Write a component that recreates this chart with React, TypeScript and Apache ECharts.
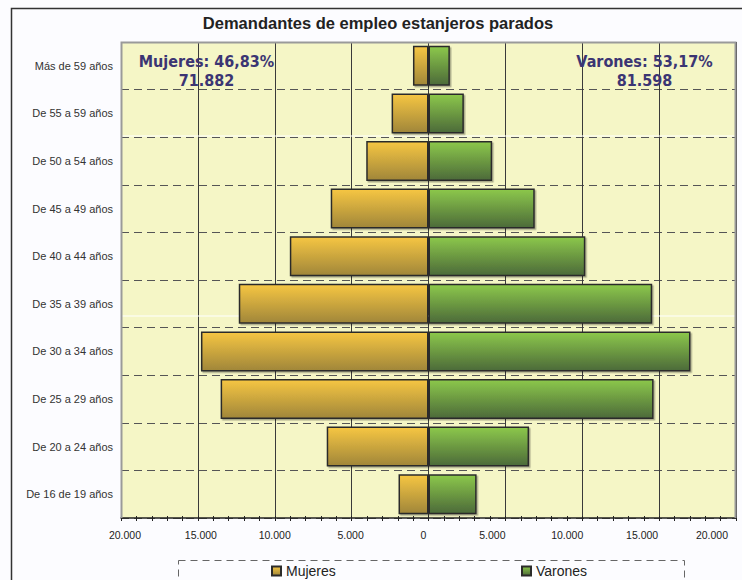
import React, { useEffect, useRef } from 'react';
import * as echarts from 'echarts';

const chartTitle = 'Demandantes de empleo estanjeros parados';
const categories = [
  'De 16 de 19 años',
  'De 20 a 24 años',
  'De 25 a 29 años',
  'De 30 a 34 años',
  'De 35 a 39 años',
  'De 40 a 44 años',
  'De 45 a 49 años',
  'De 50 a 54 años',
  'De 55 a 59 años',
  'Más de 59 años',
];
const seriesNames = ['Mujeres', 'Varones'];
const mujeres = [1950, 6620, 13520, 14800, 12340, 9020, 6360, 4050, 2400, 1010];
const varones = [3130, 6540, 14640, 17040, 14550, 10200, 6910, 4140, 2300, 1390];
const xTickValues = [-20000, -15000, -10000, -5000, 0, 5000, 10000, 15000, 20000];
const summaryMujeres = ['Mujeres: 46,83%', '71.882'];
const summaryVarones = ['Varones: 53,17%', '81.598'];

// layout: horizontal drift of the x tick labels relative to their ticks (px)
const X_LABEL_SHIFT = [4, 3, 0, -1, -5, -13, -15, -17, -24];

function fmtAbs(v: number): string {
  const a = Math.round(Math.abs(v));
  return a.toString().replace(/\B(?=(\d{3})+(?!\d))/g, '.');
}

const orangeGrad = () =>
  new echarts.graphic.LinearGradient(0, 0, 0, 1, [
    { offset: 0, color: '#F6C643' },
    { offset: 1, color: '#A08639' },
  ]);
const greenGrad = () =>
  new echarts.graphic.LinearGradient(0, 0, 0, 1, [
    { offset: 0, color: '#8CC84B' },
    { offset: 1, color: '#4C6A39' },
  ]);

export default function App() {
  const ref = useRef<HTMLDivElement>(null);

  useEffect(() => {
    if (!ref.current) return;
    const chart = echarts.init(ref.current, undefined, { renderer: 'svg' });

    const rich: Record<string, any> = {};
    X_LABEL_SHIFT.forEach((s, i) => {
      rich['s' + i] = {
        fontSize: 10.5,
        color: '#222',
        fontFamily: '"Liberation Sans", Arial, sans-serif',
        padding: s >= 0 ? [0, 0, 0, 2 * s] : [0, -2 * s, 0, 0],
      };
    });

    const gridLeft = 121;
    const gridRight = 736;
    const gridTop = 42;
    const gridBottom = 518;

    const barItemStyleBase = {
      borderColor: '#2b2b2b',
      borderWidth: 1.5,
      shadowColor: 'rgba(0,0,0,0.3)',
      shadowOffsetX: 1.5,
      shadowOffsetY: 1.5,
      shadowBlur: 1,
    };

    const legendText = { fontSize: 14, color: '#222', fontFamily: '"Liberation Sans", Arial, sans-serif' };

    chart.setOption({
      animation: false,
      backgroundColor: '#FCFCFF',
      grid: {
        left: gridLeft,
        right: 742 - gridRight,
        top: gridTop,
        bottom: 580 - gridBottom,
        show: true,
        backgroundColor: '#F5F6C6',
        borderWidth: 0,
      },
      legend: [
        {
          data: [seriesNames[0]],
          left: 266,
          top: 559,
          icon: 'rect',
          itemWidth: 9,
          itemHeight: 9,
          textStyle: legendText,
        },
        {
          data: [seriesNames[1]],
          left: 516,
          top: 559,
          icon: 'rect',
          itemWidth: 9,
          itemHeight: 9,
          textStyle: legendText,
        },
      ],
      xAxis: [
        {
          type: 'value',
          min: -20000,
          max: 20000,
          interval: 5000,
          axisLine: { show: true, lineStyle: { color: '#222', width: 1.5 } },
          axisTick: { show: true, length: 3, lineStyle: { color: '#222', width: 1 } },
          minorTick: { show: true, splitNumber: 5, length: 3, lineStyle: { color: '#222', width: 1 } },
          splitLine: { show: true, lineStyle: { color: '#3a3a3a', width: 1 } },
          axisLabel: {
            margin: 11,
            formatter: (v: number) => {
              const i = xTickValues.indexOf(Math.round(v));
              return i >= 0 ? `{s${i}|${fmtAbs(v)}}` : fmtAbs(v);
            },
            rich,
          },
        },
        {
          type: 'value',
          position: 'bottom',
          min: -20000,
          max: 20000,
          interval: 5000,
          axisLine: { show: false },
          axisTick: { show: true, inside: true, length: 2, lineStyle: { color: '#222', width: 1 } },
          minorTick: { show: true, splitNumber: 5, length: 2, lineStyle: { color: '#222', width: 1 } },
          splitLine: { show: false },
          axisLabel: { show: false },
        },
      ],
      yAxis: {
        type: 'category',
        data: categories,
        axisLine: { show: false },
        axisTick: { show: false },
        axisLabel: {
          color: '#333',
          fontSize: 11,
          fontFamily: '"Liberation Sans", Arial, sans-serif',
          margin: 8,
        },
        splitLine: { show: true, lineStyle: { type: [8, 5], color: '#555', width: 1 } },
      },
      series: [
        {
          name: seriesNames[0],
          type: 'bar',
          xAxisIndex: 0,
          barGap: '-100%',
          barCategoryGap: '16%',
          data: mujeres.map((v) => -v),
          itemStyle: { ...barItemStyleBase, color: orangeGrad() },
        },
        {
          name: seriesNames[1],
          type: 'bar',
          xAxisIndex: 0,
          barGap: '-100%',
          barCategoryGap: '16%',
          data: varones,
          itemStyle: { ...barItemStyleBase, color: greenGrad() },
        },
      ],
      graphic: [
        {
          type: 'line',
          z: 1,
          shape: { x1: gridLeft + 1, y1: 136, x2: gridRight - 1, y2: 136 },
          style: { stroke: '#FFFFFF', lineWidth: 1.2 },
        },
        {
          type: 'line',
          z: 1,
          shape: { x1: gridLeft + 1, y1: 316, x2: gridRight - 1, y2: 316 },
          style: { stroke: '#FFFFFF', lineWidth: 1.2 },
        },
        {
          type: 'polyline',
          z: 10,
          shape: {
            points: [
              [gridLeft + 0.5, gridBottom],
              [gridLeft + 0.5, gridTop + 0.5],
              [gridRight - 0.5, gridTop + 0.5],
              [gridRight - 0.5, gridBottom],
            ],
          },
          style: { stroke: '#9a9a9a', lineWidth: 2, fill: 'none' },
        },
        {
          type: 'polyline',
          z: 10,
          shape: { points: [[11.5, 600], [11.5, 8.5], [760, 8.5]] },
          style: { stroke: '#333', lineWidth: 1.5, fill: 'none' },
        },
        {
          type: 'text',
          z: 10,
          x: 378,
          y: 23,
          style: {
            text: chartTitle,
            fill: '#222',
            font: 'bold 16.5px "Liberation Sans", Arial, sans-serif',
            align: 'center',
            verticalAlign: 'middle',
          },
        },
        {
          type: 'text',
          z: 10,
          x: 206.5,
          y: 70.5,
          style: {
            text: summaryMujeres.join('\n'),
            fill: '#3B3573',
            font: 'bold 16px "DejaVu Sans Condensed", "DejaVu Sans", sans-serif',
            lineHeight: 19,
            align: 'center',
            verticalAlign: 'middle',
          },
        },
        {
          type: 'text',
          z: 10,
          x: 644.5,
          y: 70.5,
          style: {
            text: summaryVarones.join('\n'),
            fill: '#3B3573',
            font: 'bold 16px "DejaVu Sans Condensed", "DejaVu Sans", sans-serif',
            lineHeight: 19,
            align: 'center',
            verticalAlign: 'middle',
          },
        },
        {
          type: 'rect',
          z: 10,
          shape: { x: 178.5, y: 560.5, width: 506, height: 60 },
          style: { fill: 'none', stroke: '#666', lineWidth: 1, lineDash: [7, 5] },
        },
      ],
    });

    return () => chart.dispose();
  }, []);

  return (
    <div
      ref={ref}
      style={{ position: 'fixed', left: 0, top: 0, width: 742, height: 580 }}
    />
  );
}
